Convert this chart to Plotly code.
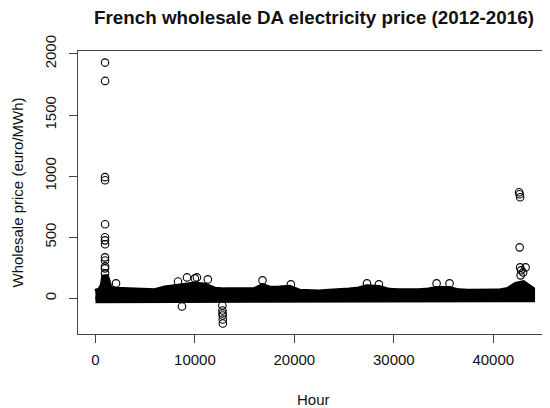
import plotly.graph_objects as go

# ---- data ----
# Dense hourly band: upper / lower envelope (euro/MWh) at sampled hours
band_hours = [0, 500, 800, 950, 1100, 1400, 2000, 3000, 4000, 5000, 6000, 7000, 8000,
              9000, 10000, 11000, 12000, 13000, 14000, 15000, 16000, 16800, 17500,
              18500, 19500, 20500, 21500, 22500, 23500, 24500, 25500, 26500, 27300,
              28500, 29500, 30500, 31500, 32500, 33500, 34300, 35500, 36500, 37500,
              38500, 39500, 40500, 41500, 42300, 43000, 43500, 43848]
band_upper = [50, 62, 110, 190, 160, 75, 68, 62, 58, 58, 55, 78, 92,
              102, 110, 100, 68, 62, 60, 62, 64, 95, 76,
              78, 84, 50, 44, 44, 50, 62, 62, 70, 88,
              82, 58, 54, 50, 54, 62, 74, 74, 54, 50,
              50, 52, 52, 66, 108, 120, 92, 72]
band_lower = [-10, -6, -6, -8, -6, -6, -3, -3, -3, -3, -3, -1, -3,
              -3, -3, -1, -1, 2, 2, 2, 2, 2, 2,
              -1, -1, 2, 2, 2, 2, 2, -1, -1, -1,
              -1, -1, -1, -3, -3, -3, -3, -3, -3, -3,
              -3, -3, 2, 2, -3, -3, -3, -3]

# Isolated points standing out of the band
out_hours = [965, 970, 960, 965, 970, 960, 965, 970, 960, 965, 970, 960, 965,
             2070, 8300, 9200, 10000, 10200, 11300, 8700,
             12760, 12770, 12780, 12790, 12800, 12810,
             16800, 19650, 27300, 28500, 34300, 35600,
             42600, 42650, 42700, 42650, 42700, 43250, 42800, 43000, 42750]
out_values = [1929, 1779, 992, 967, 607, 500, 475, 443, 336, 311, 262, 246, 205,
              123, 139, 172, 164, 172, 156, -66,
              -57, -98, -123, -139, -172, -205,
              148, 115, 123, 115, 123, 123,
              869, 852, 828, 418, 254, 254, 230, 213, 189]

x_ticks = [0, 10000, 20000, 30000, 40000]
y_ticks = [0, 500, 1000, 1500, 2000]

FONT = "Liberation Sans, Arial, Helvetica, sans-serif"
INK = "#000000"

fig = go.Figure()

# dense band drawn as polygon through envelope points (outer stroke = marker radius)
fig.add_trace(go.Scatter(
    x=band_hours + band_hours[::-1],
    y=band_upper + band_lower[::-1],
    mode="lines", fill="toself", fillcolor=INK,
    line=dict(color=INK, width=7),
    hoverinfo="skip", showlegend=False,
))

fig.add_trace(go.Scatter(
    x=out_hours, y=out_values, mode="markers",
    marker=dict(symbol="circle-open", size=7.5, color=INK, line=dict(width=1.1, color=INK)),
    showlegend=False,
))

axis_common = dict(
    showgrid=False, zeroline=False, showline=True, mirror=True,
    linecolor="#444", linewidth=1, ticks="outside", ticklen=8,
    tickcolor="#444", tickwidth=1,
    tickfont=dict(family=FONT, size=15, color="#111"),
)

# page body has an 8px margin: figure is 542x400 placed at (8, 8)
fig.update_layout(
    width=542, height=400, autosize=False,
    margin=dict(l=70, r=1, t=43, b=74),
    paper_bgcolor="white", plot_bgcolor="white",
    title=dict(text="French wholesale DA electricity price (2012-2016)",
               x=306 / 542, xanchor="center", y=1 - 9 / 400, yanchor="middle",
               xref="container", yref="container",
               font=dict(family=FONT, size=18.8, color="#111", weight="bold")),
    xaxis=dict(range=[-1753, 45602], tickvals=x_ticks,
               ticktext=[str(v) for v in x_ticks], ticklabelstandoff=4,
               **axis_common),
    yaxis=dict(range=[-290.7, 2023.7], tickvals=y_ticks,
               ticktext=[str(v) for v in y_ticks], tickangle=-90,
               ticklabelstandoff=7, **axis_common),
    annotations=[
        dict(text="Hour", xref="paper", yref="paper", x=0.5, y=(326 - 392) / 283,
             xanchor="center", yanchor="middle", showarrow=False,
             font=dict(family=FONT, size=15, color="#111")),
        dict(text="Wholesale price (euro/MWh)", xref="paper", yref="paper",
             x=(9 - 70) / 471, y=0.5, xanchor="center", yanchor="middle",
             textangle=-90, showarrow=False,
             font=dict(family=FONT, size=15, color="#111")),
    ],
)

fig.write_html("out.html")
